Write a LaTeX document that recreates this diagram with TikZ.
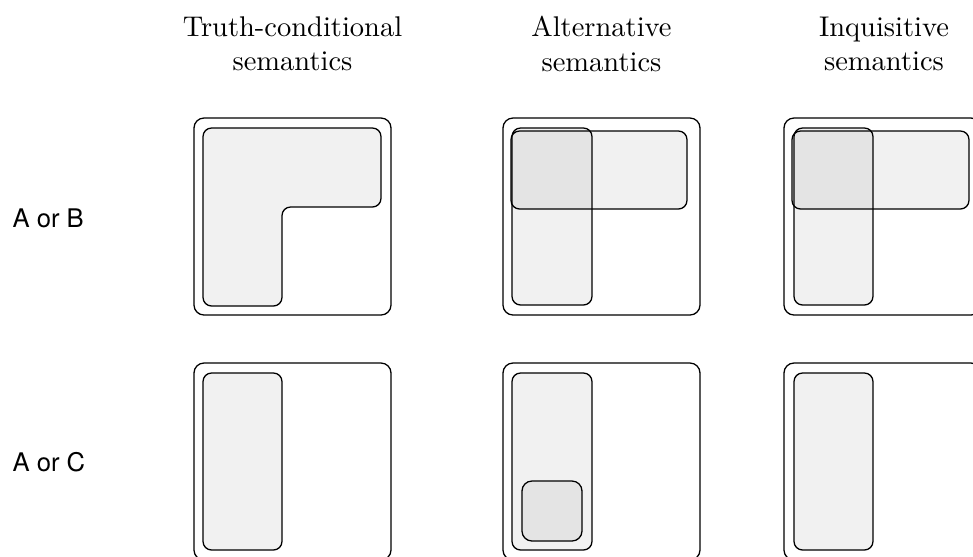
\documentclass[tikz,border=0pt]{standalone}
\usepackage{fontspec}
\newfontfamily\rowfont{TeX Gyre Heros}
\tikzset{
  worldbox/.style={draw, line width=0.45pt, rounded corners=3.5pt},
  propbox/.style={
    draw, line width=0.45pt, rounded corners=3pt,
    fill=black, fill opacity=0.055
  },
  header/.style={align=center, inner sep=0pt, anchor=north},
  rowlabel/.style={
    anchor=base west, inner sep=0pt,
    font=\rowfont\fontsize{9}{11}\selectfont
  },
}
\begin{document}
\begin{tikzpicture}[x=0.351pt, y=-0.351pt]
  \useasboundingbox (0,0) rectangle (973,556);
  \clip (0,0) rectangle (973,556);

  % Column headers
  \node[header] (truthcond) at (292.5,16) {Truth-conditional\\semantics};
  \node[header] (altsem) at (601.5,16) {Alternative\\semantics};
  \node[header] (inqsem) at (884,16) {Inquisitive\\semantics};

  % Row labels
  \node[rowlabel] (aorb) at (12,227) {A or B};
  \node[rowlabel] (aorc) at (12,471) {A or C};

  % A or B -- truth-conditional: one L-shaped set
  \draw[worldbox] (194,118) rectangle (391,315);
  \draw[propbox] (203,128) -- (381,128) -- (381,207) -- (282,207)
    -- (282,306) -- (203,306) -- cycle;

  % A or B -- alternative: two overlapping alternatives
  \draw[worldbox] (503,118) rectangle (700,315);
  \draw[propbox] (511,131) rectangle (687,209);
  \draw[propbox] (512,128) rectangle (592,305);

  % A or B -- inquisitive
  \draw[worldbox] (784,118) rectangle (981,315);
  \draw[propbox] (792,131) rectangle (969,209);
  \draw[propbox] (794,128) rectangle (873,305);

  % A or C -- truth-conditional
  \draw[worldbox] (194,363) rectangle (391,560);
  \draw[propbox] (203,373) rectangle (282,550);

  % A or C -- alternative: C nested inside A
  \draw[worldbox] (503,363) rectangle (700,560);
  \draw[propbox] (512,373) rectangle (592,550);
  \draw[propbox, rounded corners=3.5pt] (522,481) rectangle (582,541);

  % A or C -- inquisitive
  \draw[worldbox] (784,363) rectangle (981,560);
  \draw[propbox] (794,373) rectangle (873,550);
\end{tikzpicture}
\end{document}
